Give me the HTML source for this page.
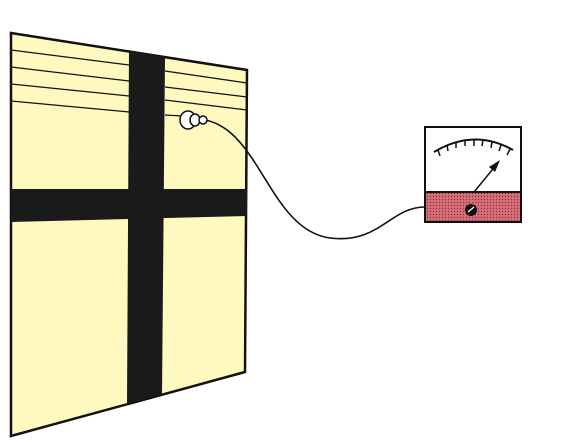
<!DOCTYPE html>
<html><head><style>body{margin:0;background:#fff}svg{display:block}</style></head>
<body>
<svg width="575" height="442" viewBox="0 0 575 442">
<defs><pattern id="dots" width="3" height="3" patternUnits="userSpaceOnUse"><rect width="3" height="3" fill="#d8707a"/><circle cx="1.5" cy="1.5" r="0.7" fill="#8a3038"/></pattern></defs>
<polygon points="11,33 247,70 245,372 11,436" fill="#fdf9bf" stroke="#111" stroke-width="2.5"/>
<polygon points="129,51 165,57 162,394 127,404" fill="#1a1a1a"/>
<polygon points="11,189 247,189 247,216 11,222" fill="#1a1a1a"/>
<g stroke="#111" stroke-width="1.3">
<line x1="11" y1="50" x2="129" y2="65"/><line x1="11" y1="67" x2="129" y2="81"/><line x1="11" y1="84" x2="129" y2="96"/><line x1="11" y1="101" x2="129" y2="112"/>
<line x1="165" y1="71" x2="247" y2="83"/><line x1="165" y1="87" x2="247" y2="97"/><line x1="165" y1="100" x2="247" y2="110"/><line x1="165" y1="115" x2="182" y2="116"/>
</g>
<path d="M205,120 C260,130 270,230 330,238 C380,244 390,207 425,207" fill="none" stroke="#111" stroke-width="1.6"/>
<g stroke="#111" stroke-width="1.5" fill="#fff">
<ellipse cx="188" cy="120" rx="8" ry="9"/><ellipse cx="195" cy="120" rx="5" ry="6"/><ellipse cx="203" cy="120" rx="4" ry="4"/>
</g>
<g>
<rect x="425" y="127" width="96" height="95" fill="#fff" stroke="#111" stroke-width="2"/>
<rect x="425" y="192" width="96" height="30" fill="url(#dots)" stroke="#111" stroke-width="2"/>
<path d="M434,152 Q474,128 513,150" fill="none" stroke="#111" stroke-width="2"/>
<g stroke="#111" stroke-width="1.5">
<line x1="438" y1="150" x2="440" y2="156"/><line x1="447" y1="145" x2="448" y2="151"/><line x1="456" y1="142" x2="456" y2="148"/><line x1="465" y1="140" x2="465" y2="146"/><line x1="474" y1="140" x2="474" y2="146"/><line x1="483" y1="140" x2="482" y2="146"/><line x1="492" y1="142" x2="491" y2="148"/><line x1="501" y1="145" x2="499" y2="151"/><line x1="510" y1="149" x2="507" y2="155"/>
</g>
<line x1="474" y1="192" x2="497" y2="164" stroke="#111" stroke-width="1.5"/>
<polygon points="500,160 489,167 495,172" fill="#111"/>
<circle cx="471" cy="210" r="6" fill="#111"/>
<line x1="468" y1="212" x2="474" y2="207" stroke="#fff" stroke-width="1.2"/>
</g>
</svg>
</body></html>
